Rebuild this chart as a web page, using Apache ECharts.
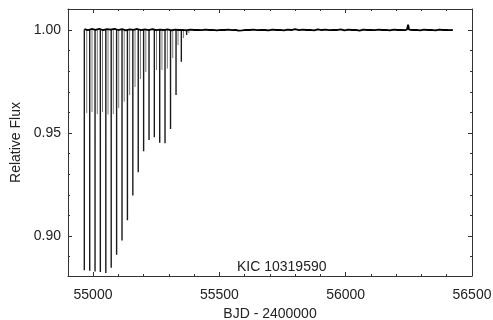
<!DOCTYPE html>
<html>
<head>
<meta charset="utf-8">
<script src="https://cdn.jsdelivr.net/npm/echarts@6/dist/echarts.min.js"></script>
<style>html,body{margin:0;padding:0;background:#fff}#c{width:493px;height:320px}</style>
</head>
<body>
<div id="c"></div>
<script>
// ---- data ----
const primaryTimes = [54965.6, 54987.0, 55008.0, 55029.0, 55050.7, 55072.0, 55093.4, 55114.8, 55136.2, 55157.6, 55179.0, 55200.3, 55221.7, 55242.7, 55264.0, 55285.0, 55306.8, 55328.6, 55349.6, 55370.5];
const primaryDepths = [0.8834, 0.8831, 0.8828, 0.8826, 0.8821, 0.8846, 0.8909, 0.8978, 0.9077, 0.9197, 0.9310, 0.9411, 0.9466, 0.9479, 0.9453, 0.9450, 0.9520, 0.9685, 0.9846, 0.9976];
const secondaryTimes = [54975.1, 54996.0, 55017.0, 55037.6, 55059.4, 55080.4, 55101.7, 55123.5, 55144.9, 55166.3, 55187.7, 55209.0, 55251.4, 55272.8, 55294.2, 55315.5, 55336.5, 55357.9, 55379.3];
const secondaryDepths = [0.9597, 0.9602, 0.9592, 0.9602, 0.9590, 0.9592, 0.9621, 0.9652, 0.9684, 0.9723, 0.9762, 0.9796, 0.9806, 0.9806, 0.9813, 0.9864, 0.9927, 0.9961, 0.9985];
const baseTimes = [54966, 54980, 54995, 55010, 55025, 55040, 55055, 55070, 55085, 55100, 55115, 55130, 55145, 55160, 55175, 55190, 55205, 55220, 55235, 55250, 55265, 55280, 55295, 55310, 55325, 55340, 55355, 55370, 55385, 55400, 55415, 55430, 55445, 55460, 55475, 55490, 55505, 55520, 55535, 55550, 55565, 55575, 55582, 55590, 55605, 55620, 55635, 55650, 55665, 55680, 55695, 55710, 55725, 55740, 55755, 55770, 55785, 55800, 55815, 55830, 55845, 55860, 55875, 55890, 55905, 55920, 55935, 55950, 55965, 55980, 55995, 56010, 56025, 56040, 56055, 56070, 56085, 56100, 56115, 56130, 56145, 56160, 56175, 56190, 56205, 56220, 56235, 56243, 56247, 56251, 56265, 56280, 56295, 56310, 56325, 56340, 56355, 56370, 56385, 56400, 56412, 56424];
const baseFlux = [1.0004, 0.9999, 1.0005, 1.0001, 1.0006, 0.9999, 1.0004, 1.0002, 1.0006, 1.0000, 1.0004, 0.9998, 1.0003, 1.0001, 1.0005, 0.9999, 1.0003, 1.0000, 1.0004, 0.9999, 1.0002, 1.0000, 1.0003, 0.9998, 1.0002, 1.0000, 1.0001, 0.9998, 1.0002, 1.0000, 1.0001, 0.9999, 1.0002, 1.0000, 1.0001, 0.9998, 1.0001, 1.0000, 1.0002, 0.9999, 1.0001, 0.9997, 0.9992, 0.9998, 1.0001, 1.0000, 1.0002, 0.9999, 1.0001, 1.0000, 0.9998, 1.0002, 1.0000, 1.0001, 0.9998, 1.0002, 1.0000, 1.0004, 0.9999, 1.0002, 1.0000, 1.0001, 0.9998, 1.0003, 1.0000, 1.0002, 0.9999, 1.0001, 1.0000, 1.0003, 0.9998, 1.0002, 1.0000, 1.0001, 0.9997, 1.0002, 1.0000, 1.0001, 0.9999, 1.0002, 1.0000, 1.0001, 0.9998, 1.0002, 1.0000, 1.0001, 0.9999, 1.0003, 1.0026, 1.0002, 1.0000, 1.0001, 0.9998, 1.0002, 1.0000, 1.0001, 0.9998, 1.0002, 1.0000, 1.0001, 0.9999, 1.0000];
const xMajorTicks = [55000, 55500, 56000, 56500];
const xMinorTicks = [55100, 55200, 55300, 55400, 55600, 55700, 55800, 55900, 56100, 56200, 56300, 56400];
const yMajorTicks = [0.90, 0.95, 1.00];
const yMinorTicks = [0.89, 0.91, 0.92, 0.93, 0.94, 0.96, 0.97, 0.98, 0.99];
const xTickLabels = ['55000', '55500', '56000', '56500'];
const yTickLabels = ['0.90', '0.95', '1.00'];
const starName = 'KIC 10319590';
const xTitle = 'BJD - 2400000';
const yTitle = 'Relative Flux';

// ---- build series data ----
function eclipseLines(times, depths) {
  const out = [];
  for (let i = 0; i < times.length; i++) {
    out.push([times[i], 1.0003]);
    out.push([times[i], depths[i]]);
    out.push([times[i], '-']);
  }
  return out;
}
const baseData = baseTimes.map((t, i) => [t, baseFlux[i]]);

const FONT = 'Liberation Sans, Arial, Helvetica, sans-serif';
const AX = '#333';
const X_MIN = 54901, X_MAX = 56500, Y_MIN = 0.8806, Y_MAX = 1.0102;

function lookup(ticks, labels) {
  return v => { const k = ticks.findIndex(m => Math.abs(m - v) < 1e-6); return k >= 0 ? labels[k] : ''; };
}
function xAx(pos, ticks, len, labels, line) {
  return {
    type: 'value', position: pos, min: X_MIN, max: X_MAX, gridIndex: 0,
    axisLine: { show: line, onZero: false, lineStyle: { color: AX, width: 1 } },
    axisTick: { show: true, inside: true, length: len, customValues: ticks, lineStyle: { color: AX, width: 1 } },
    axisLabel: labels ? { show: true, customValues: ticks, fontSize: 14, color: '#222', fontFamily: FONT, margin: 12,
      formatter: lookup(xMajorTicks, xTickLabels) } : { show: false },
    splitLine: { show: false }
  };
}
function yAx(pos, ticks, len, labels, line) {
  return {
    type: 'value', position: pos, min: Y_MIN, max: Y_MAX, gridIndex: 0,
    axisLine: { show: line, onZero: false, lineStyle: { color: AX, width: 1 } },
    axisTick: { show: true, inside: true, length: len, customValues: ticks, lineStyle: { color: AX, width: 1 } },
    axisLabel: labels ? { show: true, customValues: ticks, fontSize: 14, color: '#222', fontFamily: FONT, margin: 7,
      formatter: lookup(yMajorTicks, yTickLabels) } : { show: false },
    splitLine: { show: false }
  };
}

const xAxes = [xAx('bottom', xMajorTicks, 4, true, true), xAx('bottom', xMinorTicks, 2, false, false),
               xAx('top', xMajorTicks, 4, false, true), xAx('top', xMinorTicks, 2, false, false)];
xAxes[0].name = xTitle; xAxes[0].nameLocation = 'middle'; xAxes[0].nameGap = 29;
xAxes[0].nameTextStyle = { fontSize: 14, color: '#222', fontFamily: FONT };
const yAxes = [yAx('left', yMajorTicks, 4, true, true), yAx('left', yMinorTicks, 2, false, false),
               yAx('right', yMajorTicks, 4, false, true), yAx('right', yMinorTicks, 2, false, false)];
yAxes[0].name = yTitle; yAxes[0].nameLocation = 'middle'; yAxes[0].nameGap = 41;
yAxes[0].nameTextStyle = { fontSize: 14, color: '#222', fontFamily: FONT };

const chart = echarts.init(document.getElementById('c'), null, { renderer: 'canvas' });
chart.setOption({
  animation: false,
  backgroundColor: '#fff',
  title: { text: starName, left: 232, top: 255, textStyle: { fontSize: 14, fontWeight: 'normal', color: '#222', fontFamily: FONT } },
  grid: { left: 68, right: 21, top: 9, bottom: 44, containLabel: false, outerBoundsMode: 'none' },
  xAxis: xAxes,
  yAxis: yAxes,
  series: [
    { type: 'line', xAxisIndex: 0, yAxisIndex: 0, data: eclipseLines(secondaryTimes, secondaryDepths), showSymbol: false, connectNulls: false,
      lineStyle: { color: '#7a7a7a', width: 1 }, silent: true },
    { type: 'line', xAxisIndex: 0, yAxisIndex: 0, data: eclipseLines(primaryTimes, primaryDepths), showSymbol: false, connectNulls: false,
      lineStyle: { color: '#1a1a1a', width: 1.4 }, silent: true },
    { type: 'line', xAxisIndex: 0, yAxisIndex: 0, data: baseData, showSymbol: false,
      lineStyle: { color: '#000', width: 1.8 }, silent: true }
  ]
});
</script>
</body>
</html>
